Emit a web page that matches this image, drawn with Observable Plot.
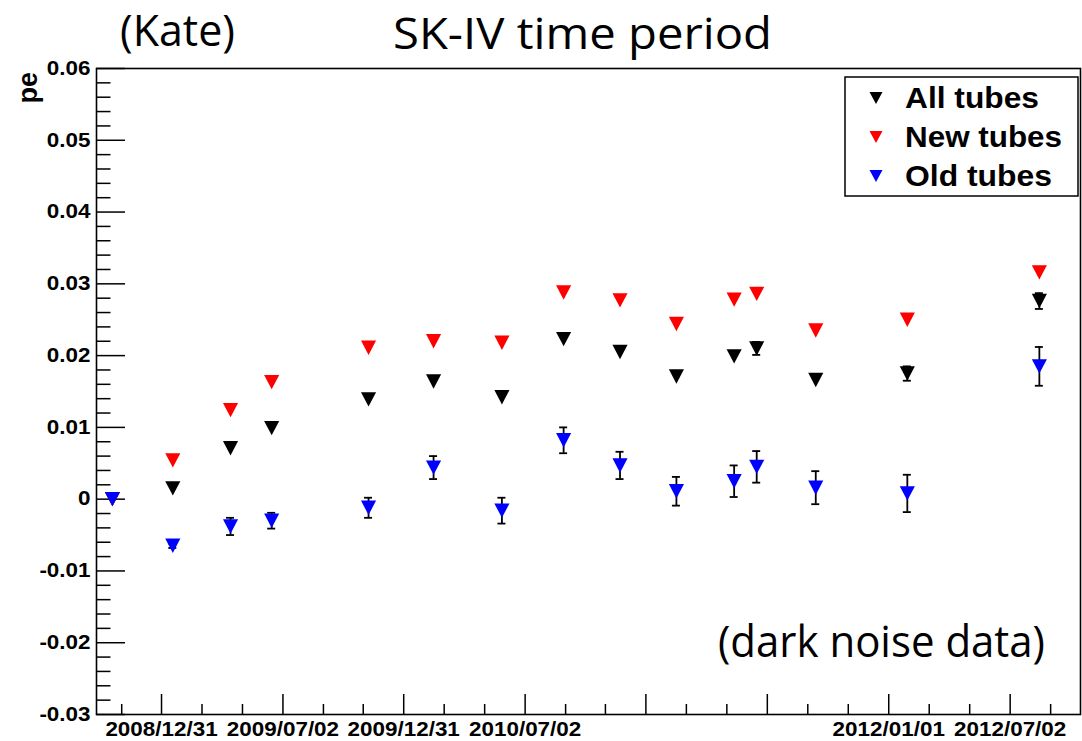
<!DOCTYPE html>
<html><head><meta charset="utf-8">
<script src="https://cdn.jsdelivr.net/npm/d3@7"></script>
<script src="https://cdn.jsdelivr.net/npm/@observablehq/plot@0.6"></script>
<style>
html,body{margin:0;padding:0;background:#fff;}
#wrap{position:relative;width:1082px;height:741px;overflow:hidden;background:#fff;}
#wrap svg{position:absolute;left:0;top:0;}
</style></head><body><div id="wrap"></div>
<script>
// ---- data ----
const dates    = ["2008-10-18","2009-01-17","2009-04-14","2009-06-15","2009-11-08","2010-02-14","2010-05-28","2010-08-29","2010-11-22","2011-02-15","2011-05-13","2011-06-16","2011-09-13","2012-01-29","2012-08-15"];
const allTubes = [0, 0.0015, 0.0071, 0.0099, 0.0139, 0.0164, 0.0142, 0.0223, 0.0205, 0.0171, 0.0199, 0.0210, 0.0166, 0.0175, 0.0276];
const allErr   = [0, 0, 0, 0, 0, 0, 0, 0, 0, 0, 0, 0.0009, 0, 0.0010, 0.0011];
const newTubes = [0, 0.0054, 0.0124, 0.0163, 0.0211, 0.0220, 0.0218, 0.0288, 0.0277, 0.0244, 0.0278, 0.0286, 0.0235, 0.0250, 0.0316];
const oldTubes = [0, -0.0065, -0.0038, -0.0030, -0.0012, 0.0044, -0.0016, 0.0082, 0.0047, 0.0011, 0.0025, 0.0045, 0.0016, 0.0008, 0.0185];
const oldErr   = [0, 0.0003, 0.0012, 0.0011, 0.0014, 0.0016, 0.0018, 0.0018, 0.0019, 0.0020, 0.0022, 0.0022, 0.0023, 0.0026, 0.0027];

const seriesNames  = ["All tubes", "New tubes", "Old tubes"];
const seriesColors = ["#000000", "#ff0000", "#0000ff"];

const xDomain = ["2008-09-24", "2012-10-16"];
const xMajorTicks  = ["2008-12-31","2009-07-02","2009-12-31","2010-07-02","2010-12-31","2011-07-02","2012-01-01","2012-07-02"];
const xMajorLabels = ["2008/12/31","2009/07/02","2009/12/31","2010/07/02","","","2012/01/01","2012/07/02"];
const xMinorTicks  = ["2008-11-01","2009-03-02","2009-05-02","2009-09-01","2009-10-31","2010-03-02","2010-05-02","2010-09-01","2010-10-31","2011-03-02","2011-05-02","2011-09-01","2011-11-01","2012-03-02","2012-05-02","2012-09-01"];
const yDomain = [-0.03, 0.06];
const yMajorTicks  = [-0.03, -0.02, -0.01, 0, 0.01, 0.02, 0.03, 0.04, 0.05, 0.06];
const yMajorLabels = ["-0.03", "-0.02", "-0.01", "0", "0.01", "0.02", "0.03", "0.04", "0.05", "0.06"];
const yMinorTicks  = d3.range(-30, 61, 2).filter(v => v % 10 !== 0).map(v => v / 1000);
const yTitle = "pe";

// ---- table ----
const parse = d3.utcParse("%Y-%m-%d");
const rows = [];
const seriesVals = [allTubes, newTubes, oldTubes];
const seriesErr  = [allErr, null, oldErr];
seriesNames.forEach((s, k) => dates.forEach((d, i) => rows.push({
  date: parse(d), series: s, v: seriesVals[k][i], e: seriesErr[k] ? seriesErr[k][i] : 0
})));
const errRows = rows.filter(r => r.e > 0);
const x0 = parse(xDomain[0]);

const triangleDown = {
  draw(ctx, size) {
    const r = Math.sqrt(size / Math.PI);
    const w = 1.05 * r, h = r;
    ctx.moveTo(-w, -h); ctx.lineTo(w, -h); ctx.lineTo(0, h); ctx.closePath();
  }
};

const font = "Liberation Sans, Arial, Helvetica, sans-serif";

const chart = Plot.plot({
  width: 1082, height: 741,
  marginLeft: 96, marginRight: 2, marginTop: 68, marginBottom: 27,
  x: {type: "utc", domain: xDomain.map(parse), axis: null},
  y: {domain: yDomain, axis: null},
  color: {domain: seriesNames, range: seriesColors},
  style: {background: "white", overflow: "visible"},
  marks: [
    // x ticks (inward)
    Plot.ruleX(xMajorTicks, {x: d => parse(d), y1: () => yDomain[0], y2: () => yDomain[0], insetTop: -20, stroke: "black", strokeWidth: 1.5}),
    Plot.ruleX(xMinorTicks, {x: d => parse(d), y1: () => yDomain[0], y2: () => yDomain[0], insetTop: -10, stroke: "black", strokeWidth: 1.5}),
    // y ticks (inward)
    Plot.ruleY(yMajorTicks, {y: d => d, x1: () => x0, x2: () => x0, insetRight: -29, stroke: "black", strokeWidth: 1.5}),
    Plot.ruleY(yMinorTicks, {y: d => d, x1: () => x0, x2: () => x0, insetRight: -14.5, stroke: "black", strokeWidth: 1.5}),
    Plot.frame({stroke: "black", strokeWidth: 1.6}),
    // tick labels
    Plot.text(yMajorTicks, {x: () => x0, y: d => d, text: (d, i) => yMajorLabels[i], textAnchor: "end", dx: -6,
      fontSize: 19.5, fontWeight: "bold", fontFamily: font, fill: "black"}),
    Plot.text(xMajorTicks, {x: d => parse(d), y: () => yDomain[0], text: (d, i) => xMajorLabels[i], dy: 15, lineAnchor: "middle",
      fontSize: 19.5, fontWeight: "bold", fontFamily: font, fill: "black"}),
    // error bars
    Plot.ruleX(errRows, {x: "date", y1: d => d.v - d.e, y2: d => d.v + d.e, stroke: "black", strokeWidth: 1.8}),
    Plot.ruleY(errRows, {y: d => d.v + d.e, x1: "date", x2: "date", insetLeft: -4, insetRight: -4, stroke: "black", strokeWidth: 1.8}),
    Plot.ruleY(errRows, {y: d => d.v - d.e, x1: "date", x2: "date", insetLeft: -4, insetRight: -4, stroke: "black", strokeWidth: 1.8}),
    // markers
    Plot.dot(rows, {x: "date", y: "v", fill: "series", symbol: triangleDown, r: 7.2, stroke: "none"})
  ]
});
const wrap = document.getElementById("wrap");
wrap.appendChild(chart);

// stretch axis labels horizontally like the reference rendering
d3.select(chart).selectAll("text").each(function() {
  const len = this.getComputedTextLength();
  if (len > 0) { this.setAttribute("textLength", len * 1.15); this.setAttribute("lengthAdjust", "spacingAndGlyphs"); }
});

// ---- overlay: titles, y title, legend ----
const ov = d3.select(wrap).append("svg").attr("width", 1082).attr("height", 741).style("pointer-events", "none");
const note = (t, x, y, len) => ov.append("text").attr("x", x).attr("y", y).attr("font-family", "Open Sans, Noto Sans, sans-serif")
  .attr("font-size", 43).attr("textLength", len).attr("lengthAdjust", "spacingAndGlyphs").attr("fill", "black").text(t);
note("(Kate)", 120, 46, 115);
note("SK-IV time period", 393, 49, 379);
note("(dark noise data)", 718, 657, 327);

ov.append("text").attr("transform", "translate(37,72) rotate(-90)").attr("text-anchor", "end")
  .attr("font-family", font).attr("font-weight", "bold").attr("font-size", 27).attr("fill", "black").text(yTitle);

const lg = ov.append("g");
lg.append("rect").attr("x", 845).attr("y", 77).attr("width", 233).attr("height", 119)
  .attr("fill", "white").attr("stroke", "black").attr("stroke-width", 1.5);
const legY = [98, 137, 176];
const legLen = [134, 157, 147];
seriesNames.forEach((s, i) => {
  const cy = legY[i];
  lg.append("path").attr("d", `M${876 - 6.5},${cy - 6}L${876 + 6.5},${cy - 6}L876,${cy + 6}Z`).attr("fill", seriesColors[i]);
  lg.append("text").attr("x", 905).attr("y", cy + 10).attr("font-family", font).attr("font-weight", "bold")
    .attr("font-size", 30).attr("textLength", legLen[i]).attr("lengthAdjust", "spacingAndGlyphs").attr("fill", "black").text(s);
});
</script></body></html>
